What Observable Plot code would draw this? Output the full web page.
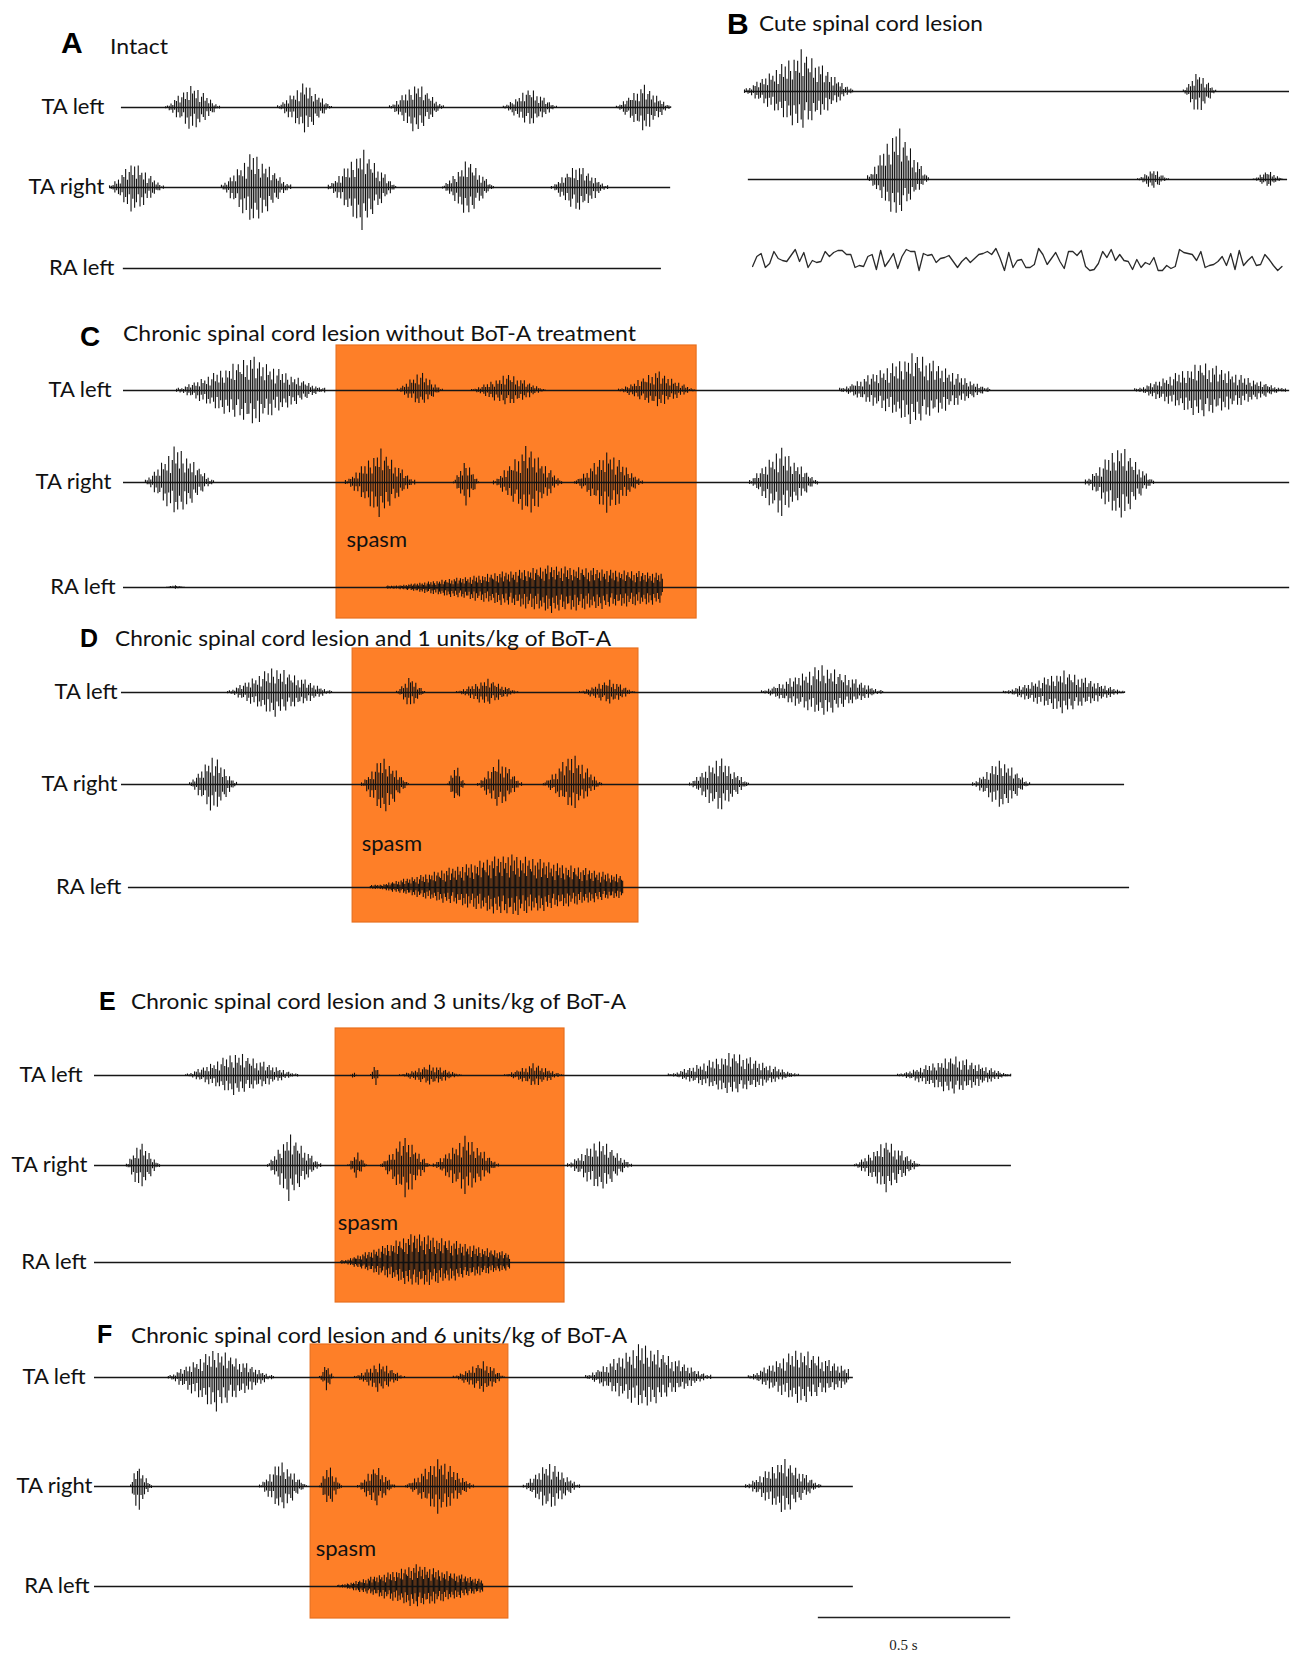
<!DOCTYPE html>
<html><head><meta charset="utf-8">
<script src="https://cdn.jsdelivr.net/npm/d3@7"></script>
<script src="https://cdn.jsdelivr.net/npm/@observablehq/plot@0.6"></script>
<style>
body{margin:0;background:#fff;}
#fig{position:relative;width:1296px;height:1653px;overflow:hidden;background:#fff;}
.panel{position:absolute;}
.lt{position:absolute;font-family:"Liberation Sans",Arial,sans-serif;font-weight:bold;line-height:1;color:#000;white-space:nowrap;}
.tt{position:absolute;font-family:Lato,"Noto Sans",sans-serif;line-height:1;white-space:nowrap;color:#111;}
</style></head><body><div id="fig"></div>
<script>
// ---------- data ----------
const MS_PER_PX = 2.6; // time scale: 0.5 s bar = ~192 px

// hand-read spike magnitude patterns (normalised, 0..1)
const spikeUp = [0.52,0.95,0.40,0.74,0.30,0.86,0.62,1.00,0.36,0.68,0.90,0.46,0.78,0.34,0.94,0.56,0.72,0.42,0.88,0.28,0.64,0.97,0.48,0.80,0.38,0.92,0.58,0.32,0.84,0.52,0.76,0.44,0.98,0.36,0.70,0.88,0.60];
const spikeDown = [0.66,0.36,0.92,0.54,0.82,0.32,0.98,0.44,0.76,0.60,0.30,0.88,0.50,0.96,0.38,0.72,0.28,0.90,0.56,0.80,0.42,0.64,0.94,0.34,0.86,0.46,0.74,1.00,0.40,0.62,0.84,0.34,0.70,0.92,0.50,0.30,0.80,0.58,0.89,0.38,0.68];

const channels3 = ["TA left", "TA right", "RA left"];

// recording extents per channel [start ms, end ms]
const recA = [[31,1459],[0,1459],[36,1435]];
const recB = [[0,1417],[10,1412]];
const recC = [[0,3032],[0,3032],[0,3032]];
const recD = [[0,2608],[0,2608],[18,2621]];
const recE = [[0,2384],[0,2384],[0,2384]];
const recF = [[0,1973],[0,1973],[0,1973]];

// bursts: [channel, start ms, end ms, amplitude up, amplitude down, peak position, end level]
const burstsA = [
  [0,146,286,24,26,0.5],[0,437,577,26,27,0.5],[0,728,868,26,28,0.5],[0,1024,1162,20,21,0.5],[0,1318,1459,23,26,0.5],
  [1,0,140,27,28,0.45],[1,291,471,37,40,0.45],[1,569,744,40,43,0.5],[1,866,998,29,31,0.5],[1,1149,1295,24,28,0.45]
];
const burstsB = [
  [0,0,281,43,41,0.53],[0,1141,1225,21,26,0.45],
  [1,320,478,57,41,0.48],[1,1022,1102,11,11,0.5],[1,1323,1399,9,9,0.5]
];
const burstsC = [
  [0,138,523,35,37,0.5],[0,712,829,20,17,0.5],[0,905,1097,17,17,0.5],[0,1287,1485,20,18,0.5],[0,1862,2252,39,36,0.5],[0,2629,3021,29,29,0.45],
  [1,57,234,39,36,0.45],[1,577,757,35,36,0.5],[1,858,923,24,25,0.5],[1,962,1139,38,37,0.5],[1,1173,1349,33,33,0.5],[1,1628,1804,37,37,0.45],[1,2501,2678,40,40,0.5],
  [2,109,161,2,2,0.5],[2,684,1401,22,26,0.6,0.65]
];
const burstsD = [
  [0,276,546,27,25,0.45],[0,715,788,17,17,0.5],[0,871,1030,14,14,0.5],[0,1191,1334,13,13,0.55],[0,1664,1979,29,25,0.5],[0,2293,2608,22,22,0.5],
  [1,177,299,31,31,0.5],[1,624,746,29,33,0.45],[1,848,892,22,22,0.5],[1,926,1040,27,27,0.5],[1,1097,1248,33,27,0.5],[1,1477,1630,29,29,0.5],[1,2213,2361,27,27,0.5],
  [2,647,1303,34,30,0.55,0.35]
];
const burstsE = [
  [0,237,528,24,21,0.45],[0,666,681,5,5,0.5],[0,718,741,14,14,0.5],[0,793,954,11,11,0.5],[0,1066,1219,12,12,0.5],[0,1492,1830,24,20,0.5],[0,2088,2382,20,20,0.5],
  [1,83,169,25,27,0.4],[1,450,588,33,36,0.4],[1,658,707,14,14,0.5],[1,744,871,30,35,0.5],[1,881,1050,31,31,0.5],[1,1230,1396,28,28,0.5],[1,1976,2145,26,28,0.5],
  [2,640,1079,30,26,0.45,0.3]
];
const burstsF = [
  [0,192,465,30,35,0.45],[0,585,621,15,15,0.5],[0,676,806,16,16,0.5],[0,933,1066,17,17,0.6],[0,1277,1602,36,33,0.45],[0,1700,1960,30,28,0.5,0.3],
  [1,94,148,23,29,0.3],[1,429,551,27,27,0.45],[1,585,642,24,24,0.4],[1,684,780,22,22,0.5],[1,809,985,30,30,0.5],[1,1115,1261,26,26,0.45],[1,1693,1888,29,29,0.5],
  [2,632,1009,22,22,0.55,0.3]
];

// panel B, third channel: sampled low-level noise (amplitude units), 11.1 ms apart starting at 21 ms
const noiseB = [-7,3,6,-8,-4,8,1,-1,-2,4,10,-2,7,-8,-1,-3,-2,8,3,7,9,9,5,5,-8,-6,-7,3,5,-10,9,-7,-1,6,-9,3,10,8,8,-11,6,4,5,-3,1,2,4,-2,-8,-2,2,-3,1,5,6,8,5,11,1,-11,7,-8,-1,0,-8,
  -8,-5,11,5,-5,1,7,-2,-9,8,8,4,9,-7,-11,-10,-4,8,2,10,-1,5,-1,-2,-10,0,-8,-3,-5,2,-11,-11,-6,-9,-7,10,7,6,5,-1,8,-8,-6,-5,-2,3,-6,6,-10,9,-6,-1,3,-6,-5,5,0,-6,-11,-7];
const noiseStart = 21, noiseStep = 11.1;

// spasm windows [start ms, end ms]
const spasmC = [554, 1490];
const spasmD = [601, 1344];
const spasmE = [627, 1222];
const spasmF = [562, 1076];

const scaleBar = {start: 1882, length: 500, label: "0.5 s"};

const titles = [
  {letter:"A", text:"Intact"},
  {letter:"B", text:"Cute spinal cord lesion"},
  {letter:"C", text:"Chronic spinal cord lesion without BoT-A treatment"},
  {letter:"D", text:"Chronic spinal cord lesion and 1 units/kg of BoT-A"},
  {letter:"E", text:"Chronic spinal cord lesion and 3 units/kg of BoT-A"},
  {letter:"F", text:"Chronic spinal cord lesion and 6 units/kg of BoT-A"}
];

// ---------- layout (page pixels) ----------
const layout = {
  A:{left:0, top:60, width:700, height:240, origin:109, rows:[47,127,208], gaps:[17,5,9], labels:channels3, rec:recA, bursts:burstsA,
     letter:{x:61,y:43,size:30}, title:{x:110,y:46,w:58}},
  B:{left:700, top:0, width:596, height:300, origin:744, rows:[91,179,259], gaps:null, labels:null, rec:recB, bursts:burstsB,
     letter:{x:727,y:24,size:30}, title:{x:759,y:23,w:224}},
  C:{left:0, top:340, width:1296, height:290, origin:123, rows:[50,142,247], gaps:[12,12,8], labels:channels3, rec:recC, bursts:burstsC,
     spasm:spasmC, rect:[5,278], spasmY:199, spasmDx:10, letter:{x:80,y:337,size:28}, title:{x:123,y:333,w:513}},
  D:{left:0, top:640, width:1296, height:290, origin:121, rows:[52,144,247], gaps:[4,4,7], labels:channels3, rec:recD, bursts:burstsD,
     spasm:spasmD, rect:[8,282], spasmY:203, spasmDx:9, letter:{x:80,y:638,size:25}, title:{x:115,y:638,w:496}},
  E:{left:0, top:1020, width:1296, height:290, origin:94, rows:[55,145,242], gaps:[12,7,8], labels:channels3, rec:recE, bursts:burstsE,
     spasm:spasmE, rect:[8,282], spasmY:202, spasmDx:2, letter:{x:99,y:1001,size:25}, title:{x:131,y:1001,w:495}},
  F:{left:0, top:1340, width:1296, height:313, origin:94, rows:[37,146,246], gaps:[9,2,5], labels:channels3, rec:recF, bursts:burstsF,
     spasm:spasmF, rect:[4,278], spasmY:208, spasmDx:5, letter:{x:97,y:1334,size:25}, title:{x:131,y:1335,w:496},
     bar:{y:277, textY:305}}
};

const ORANGE = "#FE7F28", ORANGE_EDGE = "#E86F1D", INK = "#161616";
const LABEL_FONT = "Lato, 'Noto Sans', sans-serif";

function spikes(bursts, rows, labels) {
  const out = [];
  bursts.forEach((b, bi) => {
    const [ch, t0, t1, up, down, peak = 0.5, endLvl = 0] = b;
    const dense = labels && labels[ch] === "RA left";
    const step = dense ? 3.2 : 4.6;
    const n = Math.max(2, Math.round((t1 - t0) / step));
    for (let i = 0; i <= n; i++) {
      const u = i / n;
      let env = u < peak ? u / peak : 1 - (1 - endLvl) * (u - peak) / (1 - peak);
      env = Math.max(0.07, env);
      const j = bi * 7 + i;
      out.push({
        t: t0 + (t1 - t0) * u,
        y1: -rows[ch] - down * env * spikeDown[j % spikeDown.length],
        y2: -rows[ch] + up * env * spikeUp[j % spikeUp.length]
      });
    }
  });
  return out;
}

const fig = document.getElementById("fig");

for (const [key, p] of Object.entries(layout)) {
  const x0 = -(p.origin - p.left) * MS_PER_PX;
  const marks = [];
  if (p.spasm) {
    marks.push(Plot.rect([p.spasm], {x1: d => d[0], x2: d => d[1], y1: () => -p.rect[1], y2: () => -p.rect[0],
      fill: ORANGE, stroke: ORANGE_EDGE, strokeWidth: 1.2}));
  }
  if (key === "B") {
    const nd = noiseB.map((v, i) => ({t: noiseStart + i * noiseStep, v: -p.rows[2] + v}));
    marks.push(Plot.line(nd, {x: "t", y: "v", stroke: "#2a2a2a", strokeWidth: 1.3}));
  }
  marks.push(Plot.ruleY(p.rec, {y: (d, i) => -p.rows[i], x1: d => d[0], x2: d => d[1], stroke: INK, strokeWidth: 1.3}));
  marks.push(Plot.ruleX(spikes(p.bursts, p.rows, p.labels), {x: "t", y1: "y1", y2: "y2", stroke: "#111", strokeWidth: 1.1}));
  if (p.labels) {
    const lab = p.labels.map((name, i) => ({name, t: p.rec[i][0], y: -p.rows[i], gap: p.gaps[i]}));
    lab.forEach(l => marks.push(Plot.text([l], {x: "t", y: "y", text: "name", textAnchor: "end", dx: -l.gap, dy: -1,
      fontSize: 22, fontFamily: LABEL_FONT, fill: "#111"})));
  }
  if (p.spasm) {
    marks.push(Plot.text([p.spasm], {x: d => d[0], y: () => -p.spasmY, text: () => "spasm", textAnchor: "start", dx: p.spasmDx,
      fontSize: 22, fontFamily: LABEL_FONT, fill: "#111"}));
  }
  if (p.bar) {
    marks.push(Plot.ruleY([scaleBar], {y: () => -p.bar.y, x1: d => d.start, x2: d => d.start + d.length, stroke: "#222", strokeWidth: 1.5}));
    marks.push(Plot.text([scaleBar], {x: d => d.start + d.length / 2, y: () => -p.bar.textY, text: "label", dx: -11,
      fontSize: 15, fontFamily: "'Liberation Serif', 'DejaVu Serif', serif", fill: "#222"}));
  }
  const chart = Plot.plot({
    width: p.width, height: p.height, margin: 0,
    x: {domain: [x0, x0 + p.width * MS_PER_PX], axis: null},
    y: {domain: [-p.height, 0], range: [p.height, 0], axis: null},
    style: {background: "transparent", overflow: "visible"},
    marks
  });
  chart.classList.add("panel");
  chart.style.left = p.left + "px";
  chart.style.top = p.top + "px";
  fig.appendChild(chart);
}

// titles
const keys = Object.keys(layout);
titles.forEach((t, i) => {
  const p = layout[keys[i]];
  const L = document.createElement("div");
  L.className = "lt"; L.textContent = t.letter;
  L.style.left = p.letter.x + "px"; L.style.top = p.letter.y + "px";
  L.style.fontSize = p.letter.size + "px"; L.style.transform = "translateY(-50%)";
  fig.appendChild(L);
  const T = document.createElement("div");
  T.className = "tt"; T.textContent = t.text;
  T.style.left = p.title.x + "px"; T.style.top = p.title.y + "px"; T.style.fontSize = "22px";
  fig.appendChild(T);
  const w = T.getBoundingClientRect().width;
  T.style.transformOrigin = "0 50%";
  T.style.transform = `translateY(-50%) scaleX(${p.title.w / w})`;
});
</script></body></html>
